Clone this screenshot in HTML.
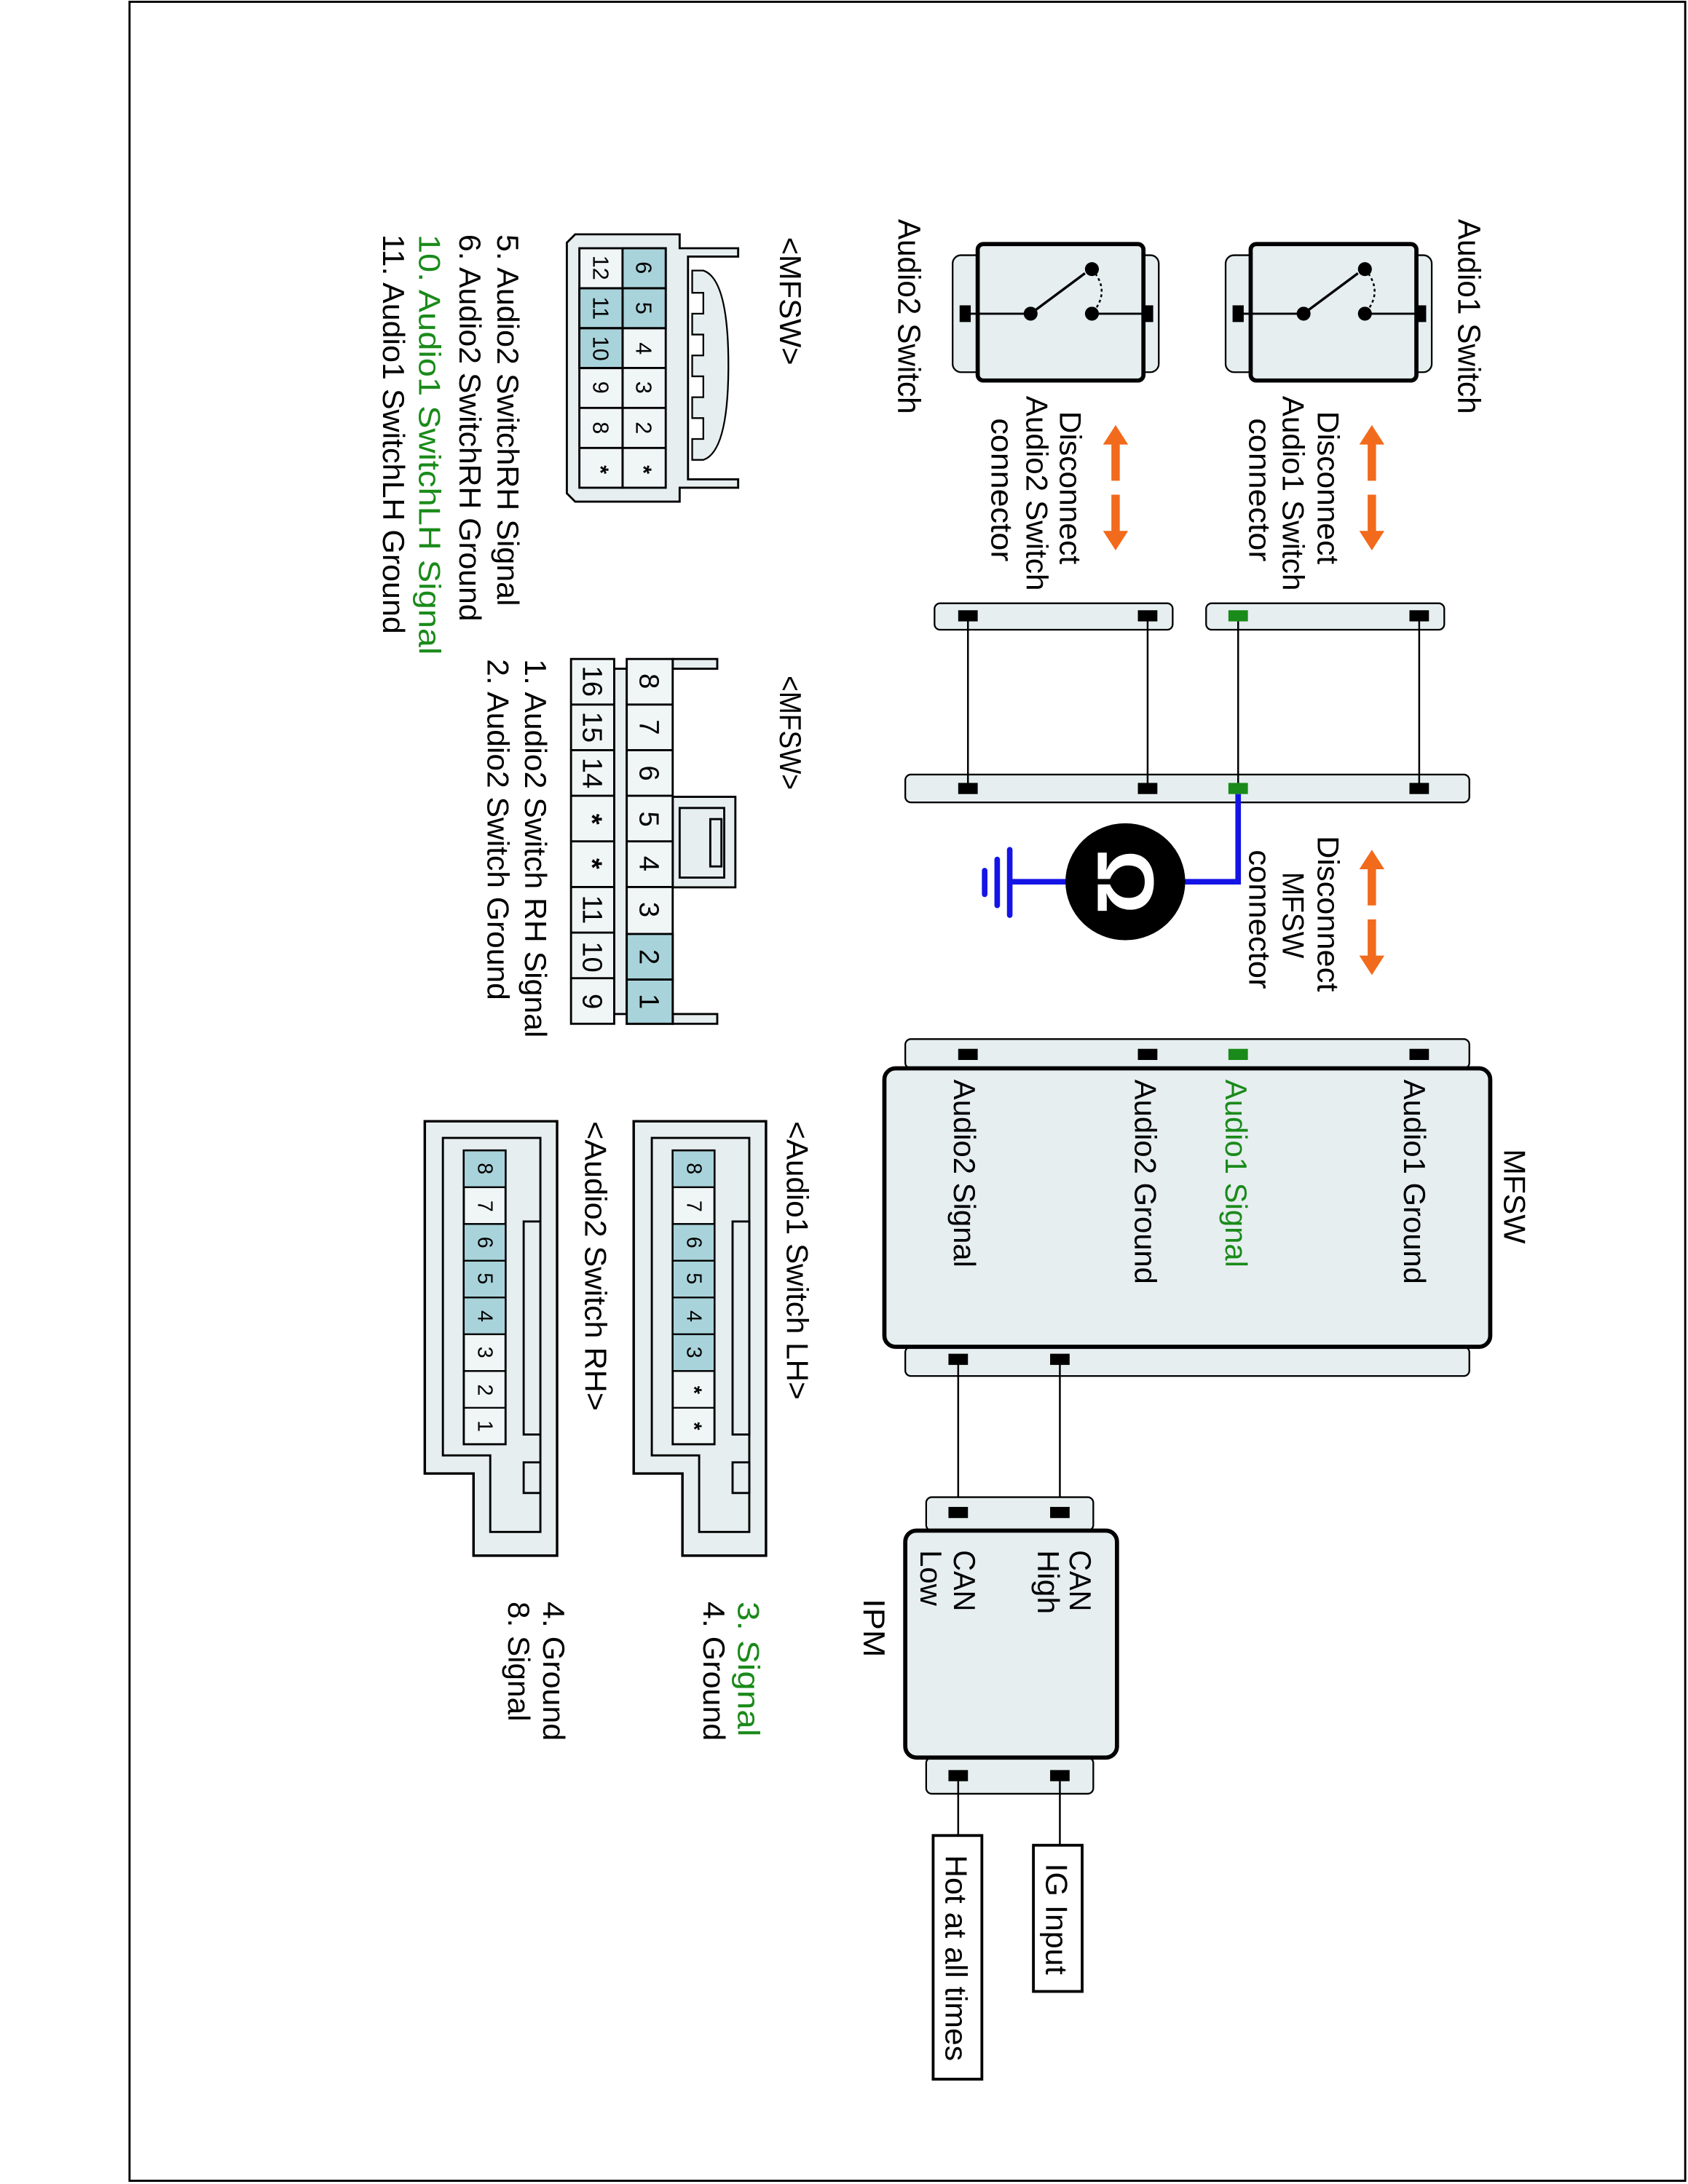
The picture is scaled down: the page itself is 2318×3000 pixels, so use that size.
<!DOCTYPE html>
<html><head><meta charset="utf-8"><style>
html,body{margin:0;padding:0;background:#fff;}
svg{display:block;}
text{font-family:"Liberation Sans",sans-serif;}
</style></head><body>
<svg width="2318" height="3000" viewBox="0 0 1212 1568" xmlns="http://www.w3.org/2000/svg">
<defs>
<g id="up"><polygon points="0,-20 -9,-6 -3,-6 -3,20 3,20 3,-6 9,-6" fill="#f26a1b"/></g>
<g id="down"><polygon points="0,20 -9,6 -3,6 -3,-20 3,-20 3,6 9,6" fill="#f26a1b"/></g>
</defs>
<rect x="93" y="1" width="1117" height="1565" fill="none" stroke="#000" stroke-width="1.5"/>

<!-- Switch 1 -->
<g id="sw1">
<rect x="880" y="183" width="148" height="84" rx="6" fill="#e6eef0" stroke="#000" stroke-width="1.2"/>
<rect x="898" y="175" width="119" height="98" rx="4" fill="#e6eef0" stroke="#000" stroke-width="3"/>
<line x1="889" y1="225" x2="936" y2="225" stroke="#000" stroke-width="1.5"/>
<line x1="980" y1="225" x2="1020" y2="225" stroke="#000" stroke-width="1.5"/>
<line x1="936" y1="225" x2="975" y2="196" stroke="#000" stroke-width="1.8"/>
<path d="M980,193 Q994,209 980,225" fill="none" stroke="#000" stroke-width="1.3" stroke-dasharray="2,2"/>
<circle cx="936" cy="225" r="5"/><circle cx="980" cy="225" r="5"/><circle cx="980" cy="193" r="5"/>
<rect x="885" y="219" width="8" height="12"/><rect x="1016" y="219" width="8" height="12"/>
</g>
<use href="#sw1" transform="translate(-196,0)"/>

<text transform="translate(1047,157) rotate(90)" font-size="23" textLength="140" lengthAdjust="spacingAndGlyphs">Audio1 Switch</text>
<text transform="translate(645,157) rotate(90)" font-size="23" textLength="140" lengthAdjust="spacingAndGlyphs">Audio2 Switch</text>

<use href="#up" x="985" y="325"/><use href="#down" x="985" y="375"/>
<use href="#up" x="801" y="325"/><use href="#down" x="801" y="375"/>
<use href="#up" x="985" y="630"/><use href="#down" x="985" y="680"/>

<g font-size="22">
<text transform="translate(946,295) rotate(90)" textLength="110" lengthAdjust="spacingAndGlyphs">Disconnect</text>
<text transform="translate(921,284) rotate(90)" textLength="140" lengthAdjust="spacingAndGlyphs">Audio1 Switch</text>
<text transform="translate(897,300) rotate(90)" textLength="103" lengthAdjust="spacingAndGlyphs">connector</text>
<text transform="translate(761,295) rotate(90)" textLength="110" lengthAdjust="spacingAndGlyphs">Disconnect</text>
<text transform="translate(737,284) rotate(90)" textLength="140" lengthAdjust="spacingAndGlyphs">Audio2 Switch</text>
<text transform="translate(712,300) rotate(90)" textLength="103" lengthAdjust="spacingAndGlyphs">connector</text>
<text transform="translate(946,600) rotate(90)" textLength="112" lengthAdjust="spacingAndGlyphs">Disconnect</text>
<text transform="translate(921,626) rotate(90)" textLength="62" lengthAdjust="spacingAndGlyphs">MFSW</text>
<text transform="translate(897,610) rotate(90)" textLength="100" lengthAdjust="spacingAndGlyphs">connector</text>
</g>

<!-- switch connector bars -->
<rect x="866" y="433" width="171" height="19" rx="4" fill="#e6eef0" stroke="#000" stroke-width="1.2"/>
<rect x="671" y="433" width="171" height="19" rx="4" fill="#e6eef0" stroke="#000" stroke-width="1.2"/>
<rect x="650" y="556" width="405" height="20" rx="4" fill="#e6eef0" stroke="#000" stroke-width="1.2"/>
<g stroke="#000" stroke-width="1.3">
<line x1="695" y1="442" x2="695" y2="566"/><line x1="824" y1="442" x2="824" y2="566"/>
<line x1="889" y1="442" x2="889" y2="566"/><line x1="1019" y1="442" x2="1019" y2="566"/>
</g>
<g>
<rect x="688" y="438" width="14" height="8"/><rect x="817" y="438" width="14" height="8"/>
<rect x="882" y="438" width="14" height="8" fill="#1a8a1a"/><rect x="1012" y="438" width="14" height="8"/>
<rect x="688" y="562" width="14" height="8"/><rect x="817" y="562" width="14" height="8"/>
<rect x="882" y="562" width="14" height="8" fill="#1a8a1a"/><rect x="1012" y="562" width="14" height="8"/>
</g>

<!-- blue wire & ground -->
<polyline points="889,570 889,633 845,633" fill="none" stroke="#1414e6" stroke-width="4"/>
<line x1="770" y1="633" x2="725" y2="633" stroke="#1414e6" stroke-width="4"/>
<line x1="725" y1="610" x2="725" y2="657" stroke="#1414e6" stroke-width="4" stroke-linecap="round"/>
<line x1="716" y1="617" x2="716" y2="650" stroke="#1414e6" stroke-width="4" stroke-linecap="round"/>
<line x1="707" y1="625" x2="707" y2="642" stroke="#1414e6" stroke-width="4" stroke-linecap="round"/>
<ellipse cx="808" cy="633" rx="43" ry="42" fill="#000"/>
<text transform="translate(808,633) rotate(90)" font-size="58" font-weight="bold" fill="#fff" text-anchor="middle" dominant-baseline="central">Ω</text>

<!-- MFSW module -->
<rect x="650" y="746" width="405" height="21" rx="4" fill="#e6eef0" stroke="#000" stroke-width="1.2"/>
<rect x="650" y="967" width="405" height="21" rx="4" fill="#e6eef0" stroke="#000" stroke-width="1.2"/>
<rect x="635" y="767" width="435" height="200" rx="8" fill="#e6eef0" stroke="#000" stroke-width="3"/>
<rect x="688" y="753" width="14" height="8"/><rect x="817" y="753" width="14" height="8"/>
<rect x="882" y="753" width="14" height="8" fill="#1a8a1a"/><rect x="1012" y="753" width="14" height="8"/>
<rect x="681" y="972" width="14" height="8"/><rect x="754" y="972" width="14" height="8"/>
<g font-size="22">
<text transform="translate(1008,775) rotate(90)" textLength="147" lengthAdjust="spacingAndGlyphs">Audio1 Ground</text>
<text transform="translate(880,775) rotate(90)" fill="#1a8a1a" textLength="135" lengthAdjust="spacingAndGlyphs">Audio1 Signal</text>
<text transform="translate(815,775) rotate(90)" textLength="147" lengthAdjust="spacingAndGlyphs">Audio2 Ground</text>
<text transform="translate(685,775) rotate(90)" textLength="135" lengthAdjust="spacingAndGlyphs">Audio2 Signal</text>
<text transform="translate(1080,825) rotate(90)" textLength="68" lengthAdjust="spacingAndGlyphs">MFSW</text>
</g>
<line x1="688" y1="976" x2="688" y2="1086" stroke="#000" stroke-width="1.3"/>
<line x1="761" y1="976" x2="761" y2="1086" stroke="#000" stroke-width="1.3"/>

<!-- IPM -->
<rect x="665" y="1075" width="120" height="24" rx="4" fill="#e6eef0" stroke="#000" stroke-width="1.2"/>
<rect x="665" y="1262" width="120" height="26" rx="4" fill="#e6eef0" stroke="#000" stroke-width="1.2"/>
<rect x="650" y="1099" width="152" height="163" rx="8" fill="#e6eef0" stroke="#000" stroke-width="3"/>
<rect x="681" y="1082" width="14" height="8"/><rect x="754" y="1082" width="14" height="8"/>
<rect x="681" y="1271" width="14" height="8"/><rect x="754" y="1271" width="14" height="8"/>
<g font-size="22">
<text transform="translate(768,1113) rotate(90)" textLength="44" lengthAdjust="spacingAndGlyphs">CAN</text>
<text transform="translate(745,1113) rotate(90)" textLength="46" lengthAdjust="spacingAndGlyphs">High</text>
<text transform="translate(685,1113) rotate(90)" textLength="44" lengthAdjust="spacingAndGlyphs">CAN</text>
<text transform="translate(661,1113) rotate(90)" textLength="40" lengthAdjust="spacingAndGlyphs">Low</text>
<text transform="translate(620,1148) rotate(90)" textLength="42" lengthAdjust="spacingAndGlyphs">IPM</text>
</g>
<line x1="761" y1="1275" x2="761" y2="1325" stroke="#000" stroke-width="1.3"/>
<line x1="688" y1="1275" x2="688" y2="1318" stroke="#000" stroke-width="1.3"/>
<rect x="742" y="1325" width="35" height="105" fill="#fff" stroke="#000" stroke-width="2"/>
<rect x="670" y="1318" width="35" height="175" fill="#fff" stroke="#000" stroke-width="2"/>
<text transform="translate(751,1338) rotate(90)" font-size="22" textLength="80" lengthAdjust="spacingAndGlyphs">IG Input</text>
<text transform="translate(679,1332) rotate(90)" font-size="22" textLength="148" lengthAdjust="spacingAndGlyphs">Hot at all times</text>

<!-- 12-pin MFSW connector -->
<path d="M530,178 L488,178 L488,168 L413,168 L407,174 L407,354 L413,360 L488,360 L488,350 L530,350 L530,344 L494,344 L494,184 L530,184 Z" fill="#e6eef0" stroke="#000" stroke-width="1.5"/>
<path d="M497,194 L505,194 Q523,200 523,262 Q523,324 505,330 L497,330 L497,315 L505,315 L505,300 L497,300 L497,285 L505,285 L505,270 L497,270 L497,255 L505,255 L505,240 L497,240 L497,225 L505,225 L505,210 L497,210 Z" fill="#e6eef0" stroke="#000" stroke-width="1.2"/>
<g stroke="#000" stroke-width="1.5">
<rect x="447" y="178" width="31" height="172" fill="#f0f5f6"/>
<rect x="416" y="178" width="31" height="172" fill="#f0f5f6"/>
<rect x="447" y="178" width="31" height="28.7" fill="#a9d3db"/>
<rect x="447" y="206.7" width="31" height="28.7" fill="#a9d3db"/>
<rect x="416" y="206.7" width="31" height="28.7" fill="#a9d3db"/>
<rect x="416" y="235.4" width="31" height="28.7" fill="#a9d3db"/>
<line x1="416" y1="206.7" x2="478" y2="206.7"/><line x1="416" y1="235.4" x2="478" y2="235.4"/>
<line x1="416" y1="264" x2="478" y2="264"/><line x1="416" y1="292.7" x2="478" y2="292.7"/>
<line x1="416" y1="321.4" x2="478" y2="321.4"/>
</g>
<g font-size="16" text-anchor="middle" dominant-baseline="central">
<text transform="translate(462,192) rotate(90)">6</text><text transform="translate(462,221) rotate(90)">5</text>
<text transform="translate(462,250) rotate(90)">4</text><text transform="translate(462,278) rotate(90)">3</text>
<text transform="translate(462,307) rotate(90)">2</text><text transform="translate(462,337) rotate(90)" font-weight="bold">*</text>
<text transform="translate(431,192) rotate(90)">12</text><text transform="translate(431,221) rotate(90)">11</text>
<text transform="translate(431,250) rotate(90)">10</text><text transform="translate(431,278) rotate(90)">9</text>
<text transform="translate(431,307) rotate(90)">8</text><text transform="translate(431,337) rotate(90)" font-weight="bold">*</text>
</g>
<text transform="translate(560,170) rotate(90)" font-size="22" textLength="92" lengthAdjust="spacingAndGlyphs">&lt;MFSW&gt;</text>
<g font-size="22">
<text transform="translate(357,168) rotate(90)" textLength="267" lengthAdjust="spacingAndGlyphs">5. Audio2 SwitchRH Signal</text>
<text transform="translate(330,168) rotate(90)" textLength="278" lengthAdjust="spacingAndGlyphs">6. Audio2 SwitchRH Ground</text>
<text transform="translate(301,168) rotate(90)" fill="#1a8a1a" textLength="302" lengthAdjust="spacingAndGlyphs">10. Audio1 SwitchLH Signal</text>
<text transform="translate(275,168) rotate(90)" textLength="287" lengthAdjust="spacingAndGlyphs">11. Audio1 SwitchLH Ground</text>
</g>

<!-- 16-pin MFSW connector -->
<g stroke="#000" stroke-width="1.5" fill="#e6eef0">
<rect x="483" y="473" width="32" height="7"/><rect x="483" y="728" width="32" height="7"/>
<rect x="441" y="480" width="9" height="248"/>
<rect x="483" y="572" width="45" height="65"/>
<rect x="488" y="580" width="32" height="50" fill="none"/>
<rect x="510" y="588" width="8" height="34" fill="none"/>
</g>
<g stroke="#000" stroke-width="1.5">
<rect x="450" y="473" width="33" height="262" fill="#f0f5f6"/>
<rect x="410" y="473" width="31" height="262" fill="#f0f5f6"/>
<rect x="450" y="670.5" width="33" height="32.75" fill="#a9d3db"/>
<rect x="450" y="703.25" width="33" height="31.75" fill="#a9d3db"/>
<line x1="450" y1="505.75" x2="483" y2="505.75"/><line x1="450" y1="538.5" x2="483" y2="538.5"/>
<line x1="450" y1="571.25" x2="483" y2="571.25"/><line x1="450" y1="604" x2="483" y2="604"/>
<line x1="450" y1="636.75" x2="483" y2="636.75"/>
<line x1="410" y1="505.75" x2="441" y2="505.75"/><line x1="410" y1="538.5" x2="441" y2="538.5"/>
<line x1="410" y1="571.25" x2="441" y2="571.25"/><line x1="410" y1="604" x2="441" y2="604"/>
<line x1="410" y1="636.75" x2="441" y2="636.75"/><line x1="410" y1="669.5" x2="441" y2="669.5"/>
<line x1="410" y1="702.25" x2="441" y2="702.25"/>
</g>
<g font-size="20" text-anchor="middle" dominant-baseline="central">
<text transform="translate(466,489) rotate(90)">8</text><text transform="translate(466,522) rotate(90)">7</text>
<text transform="translate(466,555) rotate(90)">6</text><text transform="translate(466,588) rotate(90)">5</text>
<text transform="translate(466,620) rotate(90)">4</text><text transform="translate(466,653) rotate(90)">3</text>
<text transform="translate(466,687) rotate(90)">2</text><text transform="translate(466,719) rotate(90)">1</text>
<text transform="translate(425,489) rotate(90)">16</text><text transform="translate(425,522) rotate(90)">15</text>
<text transform="translate(425,555) rotate(90)">14</text><text transform="translate(425,588) rotate(90)" font-weight="bold">*</text>
<text transform="translate(425,620) rotate(90)" font-weight="bold">*</text><text transform="translate(425,653) rotate(90)">11</text>
<text transform="translate(425,687) rotate(90)">10</text><text transform="translate(425,719) rotate(90)">9</text>
</g>
<text transform="translate(560,485) rotate(90)" font-size="22" textLength="82" lengthAdjust="spacingAndGlyphs">&lt;MFSW&gt;</text>
<g font-size="22">
<text transform="translate(377,473) rotate(90)" textLength="272" lengthAdjust="spacingAndGlyphs">1. Audio2 Switch RH Signal</text>
<text transform="translate(350,473) rotate(90)" textLength="245" lengthAdjust="spacingAndGlyphs">2. Audio2 Switch Ground</text>
</g>

<!-- Audio switch LH / RH connectors -->
<g id="lh">
<path d="M455,805 L550,805 L550,1117 L490,1117 L490,1058 L455,1058 Z" fill="#e6eef0" stroke="#000" stroke-width="1.8"/>
<path d="M468,817 L538,817 L538,1100 L502,1100 L502,1045 L468,1045 Z" fill="#e6eef0" stroke="#000" stroke-width="1.5"/>
<rect x="526" y="877" width="12" height="153" fill="#e6eef0" stroke="#000" stroke-width="1.5"/>
<rect x="526" y="1050" width="12" height="22" fill="#e6eef0" stroke="#000" stroke-width="1.5"/>
<rect x="483" y="826" width="30" height="211" fill="#f0f5f6" stroke="#000" stroke-width="1.5"/>
</g>
<use href="#lh" transform="translate(-150,0)"/>
<g stroke="#000" stroke-width="1.2" fill="#a9d3db">
<rect x="483" y="826" width="30" height="26.4"/><rect x="483" y="878.8" width="30" height="26.4"/>
<rect x="483" y="905.2" width="30" height="26.4"/><rect x="483" y="931.6" width="30" height="26.4"/>
<rect x="483" y="958" width="30" height="26.4"/>
<rect x="483" y="852.4" width="30" height="26.4" fill="none"/><rect x="483" y="984.4" width="30" height="26.4" fill="none"/>
<rect x="333" y="826" width="30" height="26.4"/><rect x="333" y="878.8" width="30" height="26.4"/>
<rect x="333" y="905.2" width="30" height="26.4"/><rect x="333" y="931.6" width="30" height="26.4"/>
<rect x="333" y="852.4" width="30" height="26.4" fill="none"/><rect x="333" y="958" width="30" height="26.4" fill="none"/>
<rect x="333" y="984.4" width="30" height="26.4" fill="none"/>
</g>
<g font-size="15" text-anchor="middle" dominant-baseline="central">
<text transform="translate(498,839) rotate(90)">8</text><text transform="translate(498,866) rotate(90)">7</text>
<text transform="translate(498,892) rotate(90)">6</text><text transform="translate(498,918) rotate(90)">5</text>
<text transform="translate(498,945) rotate(90)">4</text><text transform="translate(498,971) rotate(90)">3</text>
<text transform="translate(498,998) rotate(90)" font-weight="bold">*</text><text transform="translate(498,1024) rotate(90)" font-weight="bold">*</text>
<text transform="translate(348,839) rotate(90)">8</text><text transform="translate(348,866) rotate(90)">7</text>
<text transform="translate(348,892) rotate(90)">6</text><text transform="translate(348,918) rotate(90)">5</text>
<text transform="translate(348,945) rotate(90)">4</text><text transform="translate(348,971) rotate(90)">3</text>
<text transform="translate(348,998) rotate(90)">2</text><text transform="translate(348,1024) rotate(90)">1</text>
</g>
<g font-size="22">
<text transform="translate(565,805) rotate(90)" textLength="200" lengthAdjust="spacingAndGlyphs">&lt;Audio1 Switch LH&gt;</text>
<text transform="translate(420,805) rotate(90)" textLength="208" lengthAdjust="spacingAndGlyphs">&lt;Audio2 Switch RH&gt;</text>
<text transform="translate(530,1150) rotate(90)" fill="#1a8a1a" textLength="97" lengthAdjust="spacingAndGlyphs">3. Signal</text>
<text transform="translate(505,1150) rotate(90)" textLength="100" lengthAdjust="spacingAndGlyphs">4. Ground</text>
<text transform="translate(390,1150) rotate(90)" textLength="100" lengthAdjust="spacingAndGlyphs">4. Ground</text>
<text transform="translate(365,1150) rotate(90)" textLength="86" lengthAdjust="spacingAndGlyphs">8. Signal</text>
</g>
</svg>
</body></html>
